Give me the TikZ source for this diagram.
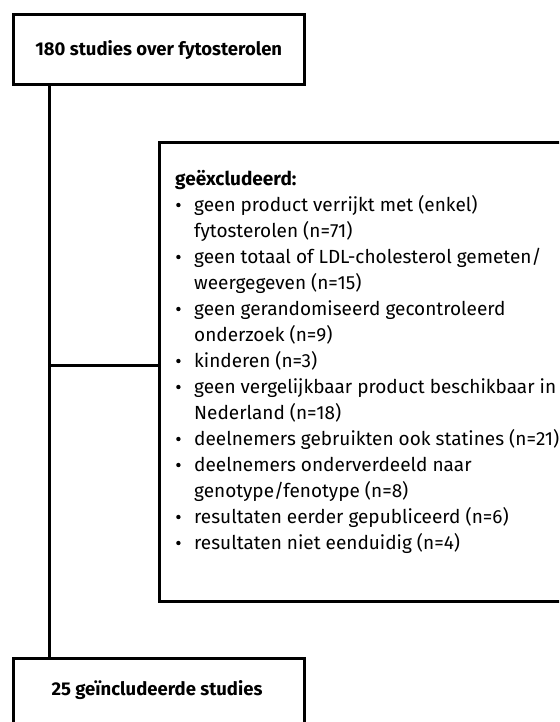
\documentclass[tikz,border=0pt]{standalone}
\usepackage{fontspec}
\setmainfont{Fira Sans}
\newcommand{\bul}{\makebox[19pt][l]{\hspace{1pt}\raisebox{0.22em}{\tikz\fill (0,0) circle (2.2pt);}}}
\newcommand{\ind}{\hspace*{19pt}}
\begin{document}
\begin{tikzpicture}[x=1pt,y=-1pt,
  box/.style={draw=black, line width=3pt, anchor=north west, inner sep=0pt},
  conn/.style={draw=black, line width=3pt},
  title/.style={font=\fontsize{18.5}{21}\selectfont\bfseries, inner sep=0pt}]
\useasboundingbox (0,0) rectangle (559,722);
\clip (0,0) rectangle (559,722);
\node[box, minimum width=291.5pt, minimum height=70pt] (top) at (11.5,13.5) {};
\node[title] (toptext) at (top.center) {180 studies over fytosterolen};
\node[box, minimum width=450pt, minimum height=459pt] (excl) at (158,141) {};
\node[box, minimum width=291.5pt, minimum height=120pt] (bot) at (11.5,657) {};
\node[title] (bottext) at (157,690) {25 geïncludeerde studies};
\node[anchor=north west, inner sep=0pt, align=left,
      font=\fontsize{19}{26}\selectfont] (list) at (175,170) {%
\textbf{geëxcludeerd:}\\
\bul geen product verrijkt met (enkel)\\
\ind fytosterolen (n=71)\\
\bul geen totaal of LDL-cholesterol gemeten/\\
\ind weergegeven (n=15)\\
\bul geen gerandomiseerd gecontroleerd\\
\ind onderzoek (n=9)\\
\bul kinderen (n=3)\\
\bul geen vergelijkbaar product beschikbaar in\\
\ind Nederland (n=18)\\
\bul deelnemers gebruikten ook statines (n=21)\\
\bul deelnemers onderverdeeld naar\\
\ind genotype/fenotype (n=8)\\
\bul resultaten eerder gepubliceerd (n=6)\\
\bul resultaten niet eenduidig (n=4)};
\coordinate (spinetop) at ([xshift=37.5pt]top.south west);
\coordinate (spinebot) at (spinetop |- bot.north);
\coordinate (junction) at (spinetop |- 0,365);
\draw[conn] (spinetop) -- (spinebot);
\draw[conn] (junction) -- (junction -| excl.west);
\end{tikzpicture}
\end{document}
